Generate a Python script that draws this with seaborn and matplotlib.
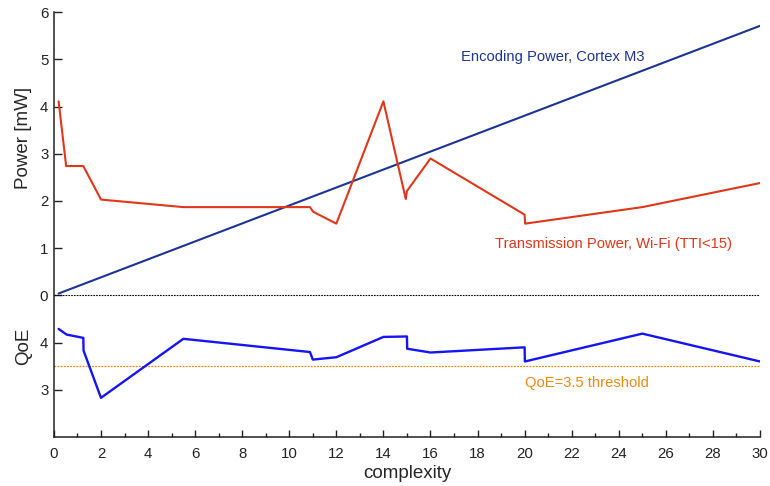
import numpy as np
import pandas as pd
import matplotlib
matplotlib.use("Agg")
import matplotlib.pyplot as plt
import matplotlib.transforms as mtransforms
from matplotlib.ticker import MultipleLocator
import seaborn as sns

# ---- data ----
enc_x = [0.2, 30.0]
enc_y = [0.04, 5.71]

tx_x = [0.2, 0.52, 1.25, 2.0, 5.5, 10.88, 11.02, 12.0, 14.0, 14.95, 15.0, 16.0, 20.0, 20.02, 25.0, 30.0]
tx_y = [4.11, 2.74, 2.74, 2.03, 1.87, 1.87, 1.77, 1.52, 4.11, 2.04, 2.21, 2.90, 1.71, 1.52, 1.87, 2.38]

qoe_x = [0.2, 0.54, 1.25, 1.26, 2.0, 5.5, 10.88, 11.0, 12.0, 14.0, 15.0, 15.01, 16.0, 20.0, 20.01, 25.0, 30.0]
qoe_v = [4.29, 4.17, 4.10, 3.83, 2.83, 4.08, 3.80, 3.64, 3.69, 4.12, 4.13, 3.87, 3.79, 3.90, 3.60, 4.19, 3.60]

qoe_threshold = 3.5
qoe_offset = 5.0  # QoE drawn below zero: y = QoE - 5

ytick_pos = [-2, -1, 0, 1, 2, 3, 4, 5, 6]
ytick_lab = ["3", "4", "0", "1", "2", "3", "4", "5", "6"]

sns.set_style("ticks")
plt.rcParams["font.family"] = ["Liberation Sans", "DejaVu Sans"]

fig = plt.figure(figsize=(7.7, 4.86), dpi=100)
ax = fig.add_axes([0.070, 0.1008, 0.917, 0.8742])

c_enc = "#1c3494"
c_tx = "#e0361a"
c_qoe = "#1414f5"
c_thr = "#ec8a10"

df_enc = pd.DataFrame({"x": enc_x, "y": enc_y})
df_tx = pd.DataFrame({"x": tx_x, "y": tx_y})
df_q = pd.DataFrame({"x": qoe_x, "y": np.array(qoe_v) - qoe_offset})

ax.axhline(0, color="black", lw=0.8, ls=(0, (1.5, 1)))
ax.axhline(qoe_threshold - qoe_offset, color=c_thr, lw=0.9, ls=(0, (1.5, 1)))

sns.lineplot(data=df_enc, x="x", y="y", ax=ax, color=c_enc, lw=1.5, sort=False, estimator=None)
sns.lineplot(data=df_tx, x="x", y="y", ax=ax, color=c_tx, lw=1.5, sort=False, estimator=None)
sns.lineplot(data=df_q, x="x", y="y", ax=ax, color=c_qoe, lw=1.7, sort=False, estimator=None)

ax.set_xlim(0, 30)
ax.set_ylim(-3, 6)
ax.xaxis.set_major_locator(MultipleLocator(2))
ax.xaxis.set_minor_locator(MultipleLocator(1))
ax.set_yticks(ytick_pos)
ax.set_yticklabels(ytick_lab)

ax.tick_params(axis="both", which="major", direction="in", length=5, width=1, labelsize=10.8, colors="#222222", pad=7)
ax.tick_params(axis="x", which="minor", direction="in", length=3, width=1, colors="#222222")
ax.tick_params(axis="y", which="major", pad=4, length=6)

for s in ["top", "right"]:
    ax.spines[s].set_visible(False)
for s in ["left", "bottom"]:
    ax.spines[s].set_color("#222222")
    ax.spines[s].set_linewidth(1.1)

ax.set_xlabel("complexity", fontsize=13.5, labelpad=3)
ax.set_ylabel("")

trans = mtransforms.blended_transform_factory(fig.transFigure, ax.transData)
fig.text(0.031, 3.33, "Power [mW]", transform=trans, rotation=90, ha="center", va="center", fontsize=13.5)
fig.text(0.031, -1.07, "QoE", transform=trans, rotation=90, ha="center", va="center", fontsize=13.5)

ax.text(17.3, 5.06, "Encoding Power, Cortex M3", color=c_enc, fontsize=10.6, ha="left", va="center")
ax.text(18.75, 1.08, "Transmission Power, Wi-Fi (TTI<15)", color=c_tx, fontsize=10.6, ha="left", va="center")
ax.text(20.0, -1.85, "QoE=3.5 threshold", color=c_thr, fontsize=10.6, ha="left", va="center")

fig.savefig("out.png", dpi=100)
